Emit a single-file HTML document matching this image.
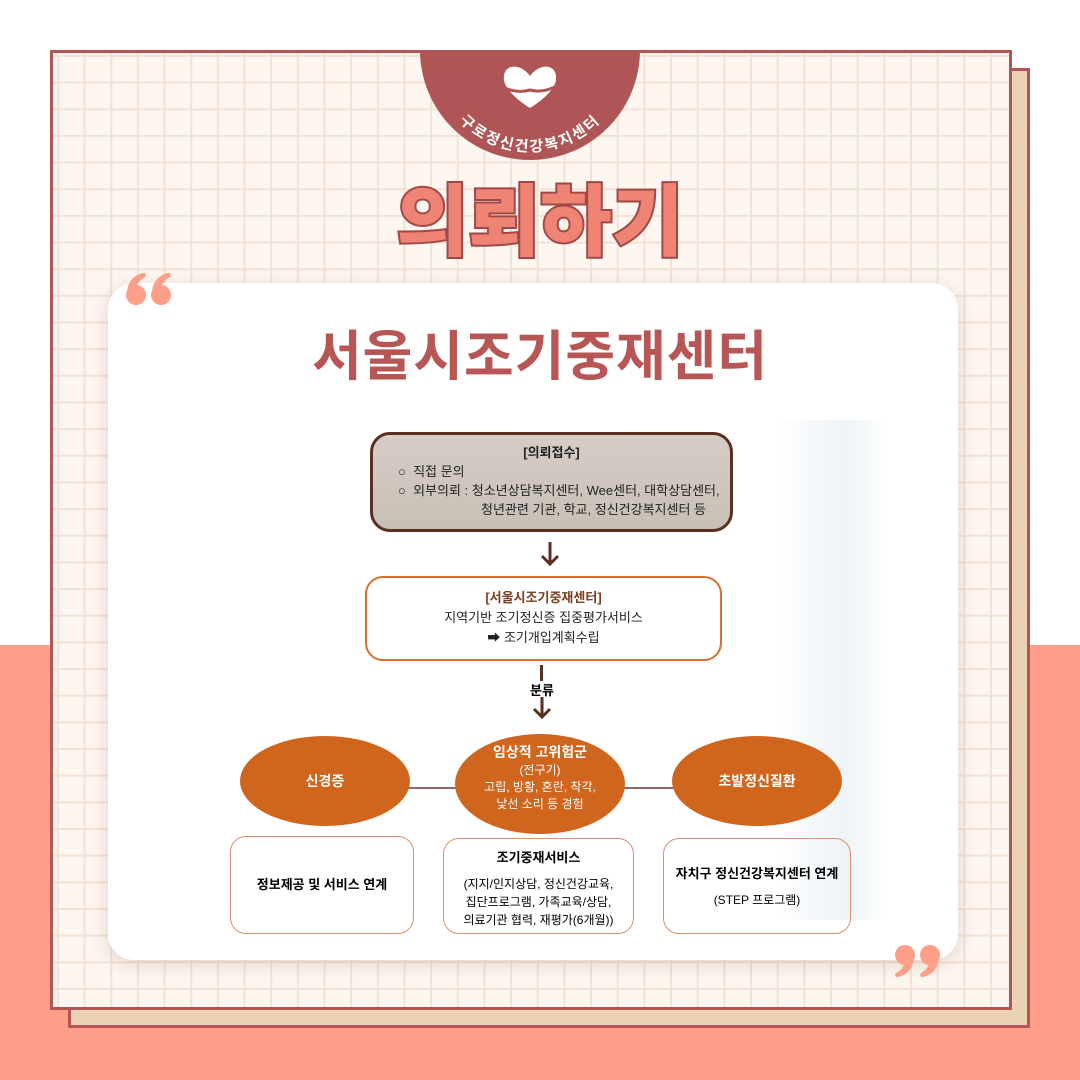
<!DOCTYPE html>
<html><head><meta charset="utf-8"><style>
*{margin:0;padding:0;box-sizing:border-box}
body{width:1080px;height:1080px;position:relative;overflow:hidden;background:#fff;font-family:"Liberation Sans","Noto Sans CJK KR",sans-serif}
.abs{position:absolute}
.grid{background-color:#fdf6f1;background-image:linear-gradient(#f3e2d4 2px,transparent 2px),linear-gradient(90deg,#f3e2d4 2px,transparent 2px);background-size:26.67px 26.67px;background-position:0 2px,4px 0}
.c{text-align:center}
</style></head><body>
<div class="abs" style="left:0;top:645px;width:1080px;height:435px;background:#ff9f8a"></div>
<div class="abs" style="left:68px;top:68px;width:962px;height:960px;background:#ecd2b4;border:3px solid #b55555"></div>
<div class="abs grid" style="left:50px;top:50px;width:962px;height:960px;border:3px solid #b55555"></div>
<div class="abs" style="left:420px;top:50px;width:220px;height:112px;overflow:hidden"><div style="width:220px;height:220px;margin-top:-110px;border-radius:50%;background:#b05555"></div></div>
<svg class="abs" style="left:420px;top:50px" width="220" height="112" viewBox="0 0 220 112">
<path d="M110 26 C100 12 82 14 84 30 C86 44 110 58 110 58 C110 58 134 44 136 30 C138 14 120 12 110 26Z" fill="#fff"/>
<path d="M80 36 Q96 44 110 40 Q124 44 140 34" stroke="#b05555" stroke-width="3" fill="none"/>
<defs><path id="arc" d="M26 54 A98 98 0 0 0 194 54"/></defs>
<text font-size="15" font-weight="bold" fill="#fff" letter-spacing="2" font-family="Liberation Sans,Noto Sans CJK KR,sans-serif"><textPath href="#arc" startOffset="50%" text-anchor="middle">구로정신건강복지센터</textPath></text>
</svg>
<div class="abs c" style="left:340px;top:172px;width:400px;font-size:78px;font-weight:900;color:#f08474;-webkit-text-stroke:4px #a04848;paint-order:stroke fill;line-height:100px">의뢰하기</div>
<div class="abs" style="left:108px;top:283px;width:850px;height:677px;background:#fff;border-radius:26px;box-shadow:0 4px 18px rgba(150,110,90,.25)"></div>
<div class="abs" style="left:775px;top:420px;width:115px;height:500px;background:linear-gradient(90deg,#fff,#eef4f7 60%,#fff)"></div>
<svg class="abs" style="left:124px;top:272px" width="52" height="36" viewBox="0 0 52 36">
<g fill="#ff9f8a"><circle cx="12" cy="23" r="10"/><path d="M3 22 C3 10 10 3 19 1 C21 0 23 3 21 5 C15 8 12 13 13 18Z"/>
<circle cx="37" cy="23" r="10"/><path d="M28 22 C28 10 35 3 44 1 C46 0 48 3 46 5 C40 8 37 13 38 18Z"/></g></svg>
<svg class="abs" style="left:890px;top:942px;transform:rotate(180deg)" width="52" height="36" viewBox="0 0 52 36">
<g fill="#ff9f8a"><circle cx="12" cy="23" r="10"/><path d="M3 22 C3 10 10 3 19 1 C21 0 23 3 21 5 C15 8 12 13 13 18Z"/>
<circle cx="37" cy="23" r="10"/><path d="M28 22 C28 10 35 3 44 1 C46 0 48 3 46 5 C40 8 37 13 38 18Z"/></g></svg>
<div class="abs c" style="left:240px;top:320px;width:600px;font-size:54px;font-weight:bold;color:#b85555;line-height:74px;letter-spacing:1px">서울시조기중재센터</div>

<div class="abs" style="left:370px;top:432px;width:363px;height:100px;border:3px solid #5a3020;border-radius:20px;background:linear-gradient(180deg,#d6cec6,#c8bfb6);font-size:13px;color:#222;line-height:19px">
<div class="c" style="margin-top:8px;font-weight:bold">[의뢰접수]</div>
<div style="margin-left:25px">○&nbsp; 직접 문의</div>
<div style="margin-left:25px">○&nbsp; 외부의뢰 : 청소년상담복지센터, Wee센터, 대학상담센터,</div>
<div style="margin-left:108px">청년관련 기관, 학교, 정신건강복지센터 등</div></div>
<svg class="abs" style="left:530px;top:540px" width="40" height="30"><path d="M20 2 V24 M12 16 L20 24 L28 16" stroke="#5a3020" stroke-width="3" fill="none"/></svg>
<div class="abs c" style="left:365px;top:576px;width:357px;height:85px;border:2.5px solid #d87030;border-radius:18px;font-size:13px;line-height:20px;color:#222;padding-top:10px">
<div style="font-weight:bold;color:#7a4020">[서울시조기중재센터]</div><div>지역기반 조기정신증 집중평가서비스</div><div>➡ 조기개입계획수립</div></div>
<div class="abs" style="left:540px;top:665px;width:3px;height:16px;background:#5a3020"></div>
<div class="abs c" style="left:520px;top:680px;width:44px;font-size:13px;font-weight:bold">분류</div>
<svg class="abs" style="left:522px;top:696px" width="40" height="26"><path d="M20 1 V21 M12 13 L20 21 L28 13" stroke="#5a3020" stroke-width="3" fill="none"/></svg>
<div class="abs" style="left:400px;top:787px;width:280px;height:2px;background:#8a6a6a"></div>
<div class="abs c" style="left:240px;top:736px;width:170px;height:90px;border-radius:50%;background:#d0651e;color:#fff;font-size:14px;font-weight:bold;line-height:90px">신경증</div>
<div class="abs c" style="left:455px;top:734px;width:170px;height:100px;border-radius:50%;background:#d0651e;color:#fff;font-size:12px;line-height:17px;padding-top:10px"><b style="font-size:14px">임상적 고위험군</b><br>(전구기)<br>고립, 방황, 혼란, 착각,<br>낯선 소리 등 경험</div>
<div class="abs c" style="left:672px;top:736px;width:170px;height:90px;border-radius:50%;background:#d0651e;color:#fff;font-size:14px;font-weight:bold;line-height:90px">초발정신질환</div>
<div class="abs c" style="left:230px;top:836px;width:184px;height:98px;border:1.5px solid #d89070;border-radius:16px;font-size:13px;font-weight:bold;line-height:96px">정보제공 및 서비스 연계</div>
<div class="abs c" style="left:443px;top:838px;width:191px;height:96px;border:1.5px solid #d89070;border-radius:16px;font-size:12px;line-height:18px;padding-top:10px"><b style="font-size:13px">조기중재서비스</b><div style="height:8px"></div>(지지/인지상담, 정신건강교육,<br>집단프로그램, 가족교육/상담,<br>의료기관 협력, 재평가(6개월))</div>
<div class="abs c" style="left:663px;top:838px;width:188px;height:96px;border:1.5px solid #d89070;border-radius:16px;font-size:12px;line-height:20px;padding-top:25px"><b style="font-size:13px">자치구 정신건강복지센터 연계</b><div style="height:6px"></div>(STEP 프로그램)</div>
</body></html>
